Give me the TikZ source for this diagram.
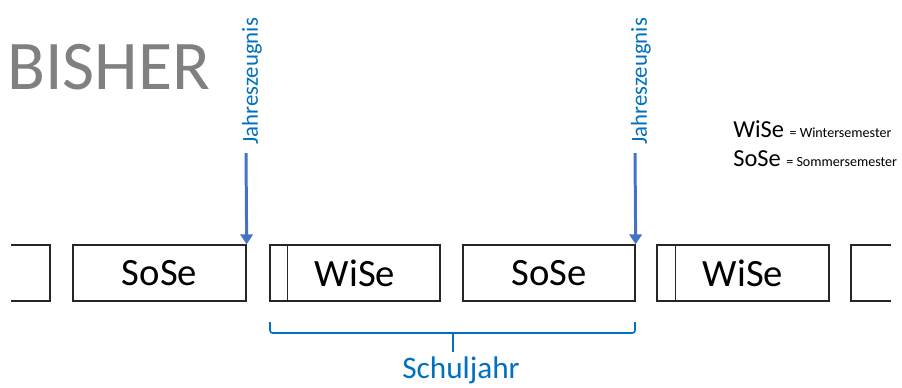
\documentclass[tikz,border=0pt]{standalone}
\usepackage{fontspec}
\setmainfont{Carlito}
\usetikzlibrary{arrows.meta}

\tikzset{
  semester/.style={draw=black!85, line width=0.8pt, inner sep=0pt,
    minimum height=1.12cm, font=\fontsize{22}{26}\selectfont},
  zeugnis/.style={draw=zblue, line width=1.7pt,
    -{Triangle[width=0.25cm, length=0.2cm]}},
  zeugnistext/.style={rotate=90, anchor=west, inner sep=0pt,
    text=sblue, font=\fontsize{13}{15}\selectfont},
}

\begin{document}
\begin{tikzpicture}[x=0.02cm, y=-0.02cm]

\definecolor{zblue}{RGB}{68,114,196}
\definecolor{sblue}{RGB}{0,112,192}
\definecolor{titlegray}{RGB}{128,128,128}

\useasboundingbox (0,0) rectangle (902,387);

\node[anchor=base west, inner sep=0pt, text=titlegray,
  font=\fontsize{39.7}{46}\selectfont] (bisher) at (7,89) {BISHER};

% semester boxes
\draw[black!85, line width=0.8pt] (11,245) -- (50,245) -- (50,301) -- (11,301);
\node[semester, minimum width=3.46cm] (sose1) at (159.5,273) {SoSe};
\node[semester, minimum width=3.40cm] (wise1) at (355,273) {WiSe};
\node[semester, minimum width=3.44cm] (sose2) at (549,273) {SoSe};
\node[semester, minimum width=3.44cm] (wise2) at (743,273) {WiSe};
\draw[black!85, line width=0.8pt] (891,245) -- (851,245) -- (851,301) -- (891,301);

\draw[black!85, line width=0.8pt] ([xshift=0.36cm]wise1.north west) -- ([xshift=0.36cm]wise1.south west);
\draw[black!85, line width=0.8pt] ([xshift=0.38cm]wise2.north west) -- ([xshift=0.38cm]wise2.south west);

% Jahreszeugnis
\coordinate (jz1) at (246,153);
\coordinate (jz2) at (635,153);
\draw[zeugnis] (jz1) -- (sose1.north east);
\draw[zeugnis] (jz2) -- (sose2.north east);
\node[zeugnistext] (jztext1) at (252,145) {Jahreszeugnis};
\node[zeugnistext] (jztext2) at (641,145) {Jahreszeugnis};

% Schuljahr
\draw[sblue, line width=0.9pt, rounded corners=1.5pt]
  (270,322) -- (270,333) -- (635,333) -- (635,322);
\draw[sblue, line width=0.9pt] (453,333) -- (453,352);
\node[anchor=base, inner sep=0pt, text=sblue,
  font=\fontsize{17.8}{21}\selectfont] (schuljahr) at (461,378) {Schuljahr};

% legend
\node[anchor=base west, inner sep=0pt] (legwise) at (733,137)
  {\fontsize{13.9}{16}\selectfont WiSe \fontsize{8}{10}\selectfont= Wintersemester};
\node[anchor=base west, inner sep=0pt] (legsose) at (733,166)
  {\fontsize{13.9}{16}\selectfont SoSe \fontsize{8}{10}\selectfont= Sommersemester};

\end{tikzpicture}
\end{document}
